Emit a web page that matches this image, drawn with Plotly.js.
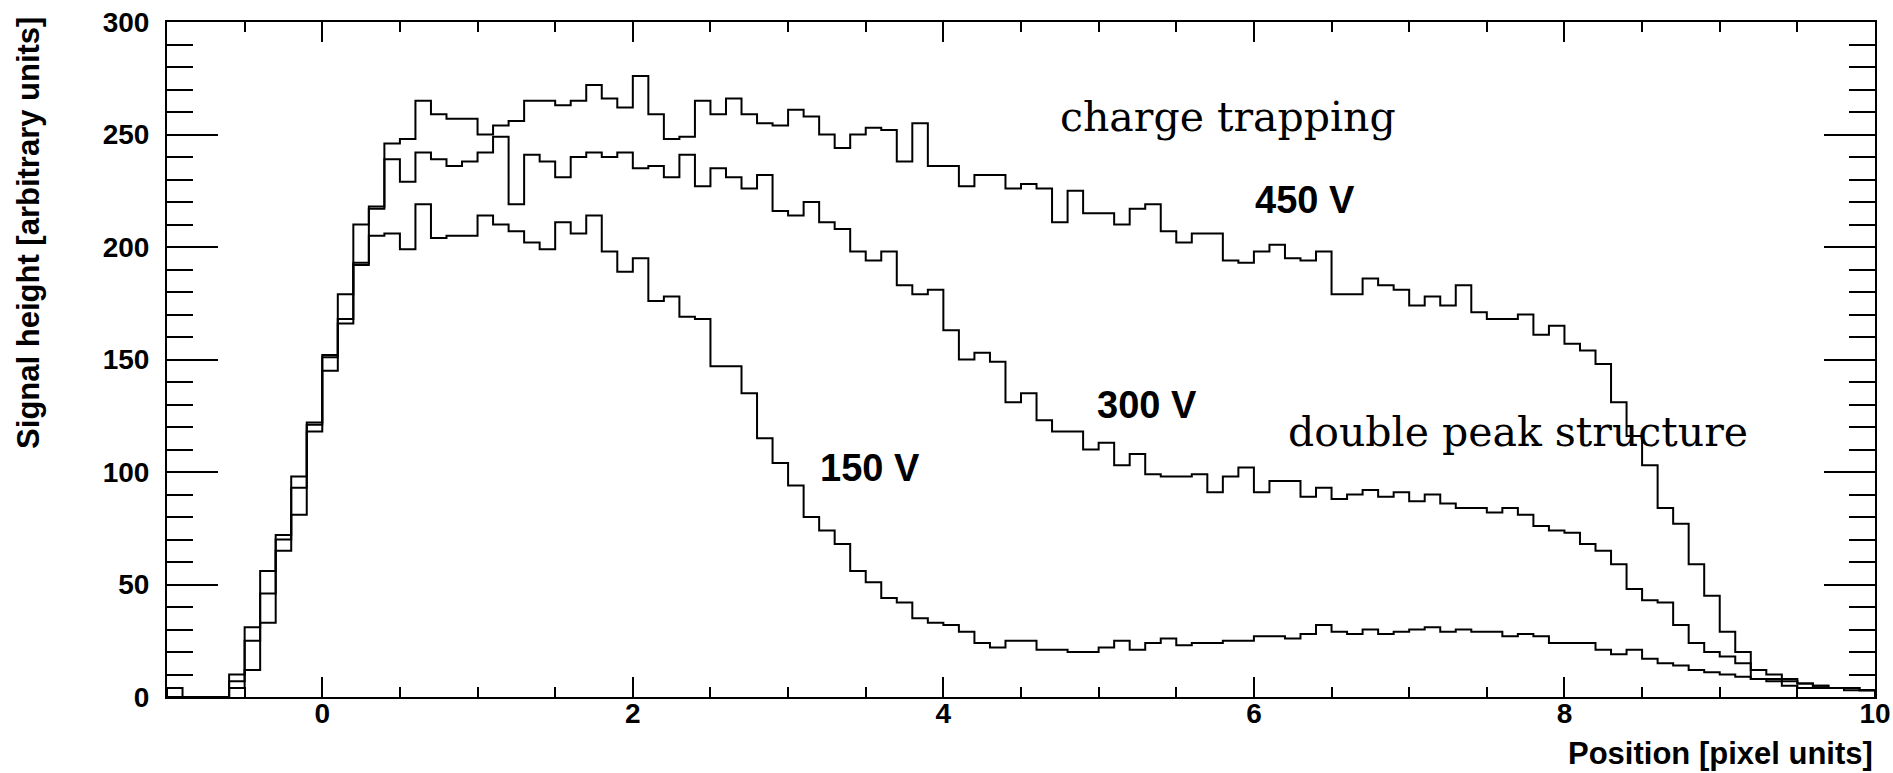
<!DOCTYPE html>
<html>
<head>
<meta charset="utf-8">
<script src="https://cdn.plot.ly/plotly-3.0.1.min.js"></script>
<style>html,body{margin:0;padding:0;background:#fff;}#chart{width:1893px;height:773px;}</style>
</head>
<body>
<div id="chart"></div>
<script>
// Histogram binning (position in pixel units)
const binLow = -1.0;
const binWidth = 0.1;

// Signal height per bin, bins from -1.0 to 9.9 (110 bins)
const v450 = [
  4,0,0,0,10,31,56,72,98,122,
  152,179,210,218,246,248,265,259,257,257,
  250,254,256,265,265,263,265,272,266,262,
  276,259,248,249,265,259,266,259,255,254,
  261,258,250,244,250,253,252,238,255,236,
  236,227,232,232,226,228,226,211,225,215,
  215,210,217,219,207,202,206,206,194,193,
  198,201,195,194,198,179,179,186,183,181,
  174,178,174,183,171,168,168,170,161,165,
  157,154,148,131,116,103,84,77,59,45,
  29,20,8,7,5,4,4,4,4,3
];
const v300 = [
  0,0,0,0,7,25,46,70,93,121,
  151,168,193,217,239,229,242,239,236,238,
  242,249,219,241,238,231,240,242,240,242,
  235,236,231,241,227,235,231,226,232,216,
  214,220,211,208,198,194,198,183,179,181,
  163,150,153,149,131,135,123,118,118,110,
  113,103,108,99,98,98,99,91,98,102,
  91,96,96,89,93,88,90,92,89,91,
  87,90,86,84,84,82,84,81,76,74,
  73,68,65,59,48,43,42,32,24,20,
  18,15,12,10,8,6,5,4,4,3
];
const v150 = [
  0,0,0,0,4,12,33,65,81,118,
  145,166,192,205,206,199,219,204,205,205,
  214,210,207,202,199,211,206,214,198,189,
  195,176,178,169,168,147,147,135,115,104,
  94,80,74,68,56,51,44,42,35,33,
  32,29,24,22,25,25,21,21,20,20,
  22,25,21,24,26,23,24,24,25,25,
  27,27,26,28,32,29,28,30,28,29,
  30,31,29,30,29,29,27,28,27,24,
  24,24,21,19,21,17,15,14,12,11,
  10,9,8,8,7,6,5,4,3,3
];

const xTickVals = [0, 2, 4, 6, 8, 10];
const yTickVals = [0, 50, 100, 150, 200, 250, 300];

// Text labels on the chart
const voltLabels = ["450 V", "300 V", "150 V"];
const voltLabelX = [6.33, 5.31, 3.53];
const voltLabelY = [221, 130, 102];
const noteLabels = ["charge trapping", "double peak structure"];
const noteLabelX = [5.83, 7.70];
const noteLabelY = [258, 118];

function histTrace(vals, name) {
  const xs = [], ys = [];
  for (let i = 0; i < vals.length; i++) {
    xs.push(binLow + i * binWidth);
    ys.push(vals[i]);
  }
  const xEnd = binLow + vals.length * binWidth;
  xs.push(xEnd); ys.push(vals[vals.length - 1]);
  xs.push(xEnd); ys.push(0);
  xs.unshift(binLow); ys.unshift(0);
  return {
    x: xs, y: ys, type: 'scatter', mode: 'lines', name: name,
    line: {shape: 'hv', color: '#000', width: 2},
    hoverinfo: 'skip', showlegend: false
  };
}

const traces = [histTrace(v450, '450 V'), histTrace(v300, '300 V'), histTrace(v150, '150 V')];

const boldFont = {family: 'Liberation Sans, Arial, sans-serif', size: 28, color: '#000', weight: 'bold'};

const annotations = [];
voltLabels.forEach((t, i) => annotations.push({
  x: voltLabelX[i], y: voltLabelY[i], xref: 'x', yref: 'y', text: t, showarrow: false,
  font: {family: 'Liberation Sans, Arial, sans-serif', size: 38, color: '#000', weight: 'bold'}
}));
noteLabels.forEach((t, i) => annotations.push({
  x: noteLabelX[i], y: noteLabelY[i], xref: 'x', yref: 'y', text: t, showarrow: false,
  font: {family: 'DejaVu Serif, serif', size: 41, color: '#000'}
}));
annotations.push({
  x: 1, y: -0.083, xref: 'paper', yref: 'paper', xanchor: 'right', yanchor: 'middle',
  text: 'Position [pixel units]', showarrow: false, font: Object.assign({}, boldFont, {size: 31})
});
annotations.push({
  x: -0.081, y: 1.01, xref: 'paper', yref: 'paper', xanchor: 'center', yanchor: 'top',
  text: 'Signal height [arbitrary units]', textangle: -90, showarrow: false,
  font: Object.assign({}, boldFont, {size: 31})
});

const layout = {
  width: 1893, height: 773,
  margin: {l: 167, r: 18, t: 22, b: 76, pad: 0},
  paper_bgcolor: '#fff', plot_bgcolor: '#fff',
  showlegend: false,
  xaxis: {
    range: [-1, 10], tickvals: xTickVals, ticks: 'inside', ticklen: 20, tickwidth: 2, tickcolor: '#000',
    minor: {dtick: 0.5, ticklen: 10, tickwidth: 2, tickcolor: '#000', ticks: 'inside', showgrid: false},
    showline: true, linewidth: 2, linecolor: '#000', mirror: 'allticks',
    showgrid: false, zeroline: false, tickfont: boldFont, ticklabelstandoff: -10
  },
  yaxis: {
    range: [0, 300], tickvals: yTickVals, ticks: 'inside', ticklen: 51, tickwidth: 2, tickcolor: '#000',
    minor: {dtick: 10, ticklen: 26, tickwidth: 2, tickcolor: '#000', ticks: 'inside', showgrid: false},
    showline: true, linewidth: 2, linecolor: '#000', mirror: 'allticks',
    showgrid: false, zeroline: false, tickfont: boldFont, ticklabelstandoff: 10
  },
  annotations: annotations
};

Plotly.newPlot('chart', traces, layout, {staticPlot: true, displayModeBar: false});
</script>
</body>
</html>
